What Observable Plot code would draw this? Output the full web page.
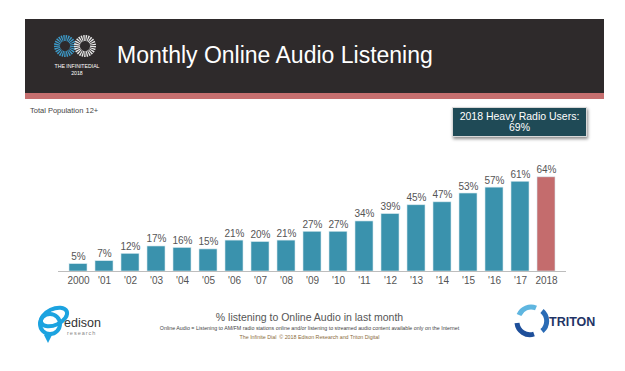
<!DOCTYPE html>
<html><head><meta charset="utf-8">
<script src="https://cdn.jsdelivr.net/npm/d3@7"></script>
<script src="https://cdn.jsdelivr.net/npm/@observablehq/plot@0.6"></script>
<style>
body{margin:0;width:625px;height:371px;position:relative;background:#fff;font-family:"Liberation Sans",Arial,sans-serif;overflow:hidden}
.abs{position:absolute;white-space:nowrap}
</style></head><body>
<div class="abs" style="left:25px;top:19px;width:579px;height:74px;background:#2e2a2b"></div>
<div class="abs" style="left:25px;top:93px;width:579px;height:6px;background:#c66f6f"></div>
<svg class="abs" style="left:40px;top:25px" width="80" height="56">
  <g fill="none" stroke-width="6" stroke-dasharray="1.2 0.8">
    <circle cx="25" cy="21" r="8" stroke="#3d9ccb"/>
    <circle cx="45" cy="21" r="8" stroke="#e8e8e8"/>
  </g>
  <text x="37" y="43" fill="#fff" font-size="5.2" text-anchor="middle">THE INFINITEDIAL</text>
  <text x="37" y="50" fill="#fff" font-size="5.2" text-anchor="middle">2018</text>
</svg>
<div class="abs" style="left:117px;top:41px;font-size:23px;line-height:28px;color:#fff">Monthly Online Audio Listening</div>
<div class="abs" style="left:30px;top:106px;font-size:7.5px;line-height:10px;color:#444">Total Population 12+</div>
<div class="abs" style="left:452px;top:107px;width:135px;height:30px;background:#1f4a56;color:#fff;font-size:10.5px;line-height:11px;text-align:center;box-shadow:1px 2px 3px rgba(0,0,0,0.45);border:1px solid #d8d8d8;box-sizing:border-box;padding-top:3px">2018 Heavy Radio Users:<br>69%</div>
<div id="chart" class="abs" style="left:0;top:150px"></div>
<div class="abs" style="left:0;width:619px;top:311px;text-align:center;font-size:10.5px;line-height:13px;color:#555">% listening to Online Audio in last month</div>
<div class="abs" style="left:0;width:619px;top:325px;text-align:center;font-size:5.3px;line-height:7px;color:#444">Online Audio = Listening to AM/FM radio stations online and/or listening to streamed audio content available only on the Internet</div>
<div class="abs" style="left:0;width:619px;top:334px;text-align:center;font-size:5.3px;line-height:7px;color:#8a6a3a">The Infinite Dial &nbsp;© 2018 Edison Research and Triton Digital</div>
<svg class="abs" style="left:34px;top:300px" width="80" height="48">
  <ellipse cx="20" cy="17" rx="14" ry="8" transform="rotate(-25 20 17)" fill="none" stroke="#1ca3e0" stroke-width="4"/>
  <circle cx="16" cy="24" r="10" fill="none" stroke="#1ca3e0" stroke-width="4"/>
  <path d="M10 35 l4 8 l4 -8" fill="#1ca3e0"/>
  <text x="30" y="27" fill="#333" font-size="12.5">edison</text>
  <text x="33" y="35" fill="#888" font-size="5.5" letter-spacing="1">research</text>
</svg>
<svg class="abs" style="left:512px;top:303px" width="90" height="36">
  <g fill="none" stroke-width="5">
    <path d="M7 12 A 13 13 0 0 1 24 5" stroke="#5fb6e0"/>
    <path d="M30 8 A 13 13 0 0 1 30 28" stroke="#2a6bb5"/>
    <path d="M22 31 A 13 13 0 0 1 5 20" stroke="#1e4f9a"/>
  </g>
  <text x="37" y="23" fill="#1f3466" font-size="12.5" font-weight="bold" font-family="'Liberation Sans Narrow','Liberation Sans',Arial" >TRITON</text>
</svg>
<script>
const years = ["2000","'01","'02","'03","'04","'05","'06","'07","'08","'09","'10","'11","'12","'13","'14","'15","'16","'17","2018"];
const values = [5,7,12,17,16,15,21,20,21,27,27,34,39,45,47,53,57,61,64];
const highlightYear = "2018";
const barColor = "#3a92ad";
const highlightColor = "#c46c6d";
const data = years.map((year, i) => ({year, value: values[i]}));
const chart = Plot.plot({
  width: 625, height: 141,
  marginLeft: 58, marginRight: 59, marginTop: 18, marginBottom: 20,
  style: {fontFamily: "'Liberation Sans', Arial, sans-serif", fontSize: "10px", color: "#555", background: "transparent"},
  x: {domain: years, padding: 0.3, label: null, tickSize: 0, tickPadding: 5},
  y: {domain: [0, 70], axis: null},
  marks: [
    Plot.barY(data, {x: "year", y: "value", fill: d => d.year === highlightYear ? highlightColor : barColor, stroke: "#d5e8ee", strokeWidth: 0.6}),
    Plot.ruleY([0], {stroke: "#bdbdbd"}),
    Plot.text(data, {x: "year", y: "value", text: d => d.value + "%", dy: -4, lineAnchor: "bottom", fill: "#555", fontSize: 10})
  ]
});
document.getElementById("chart").appendChild(chart);
</script>
</body></html>
